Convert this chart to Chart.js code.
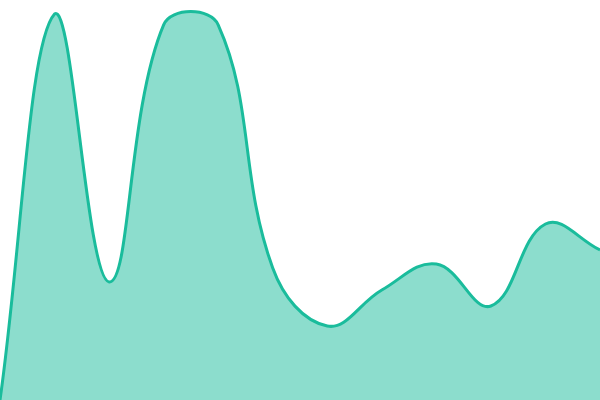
<!DOCTYPE html>
<html>
<head>
<meta charset="utf-8">
<script src="https://cdn.jsdelivr.net/npm/chart.js@4"></script>
<style>
html,body{margin:0;padding:0;background:#fff;}
canvas{display:block;}
</style>
</head>
<body>
<canvas id="c" width="600" height="400"></canvas>
<script>
const labels = ["1","2","3","4","5","6","7","8","9","10","11","12"];
const values = [0, 96.5, 29.5, 93.8, 93.8, 33, 18.5, 27.5, 34, 23.5, 44, 37.5];

new Chart(document.getElementById('c'), {
  type: 'line',
  data: {
    labels: labels,
    datasets: [{
      data: values,
      borderColor: '#1abc9c',
      backgroundColor: 'rgba(26,188,156,0.5)',
      borderWidth: 3,
      fill: 'origin',
      tension: 0.4,
      pointRadius: 0,
      pointHoverRadius: 0
    }]
  },
  options: {
    responsive: false,
    animation: false,
    layout: { padding: 0 },
    plugins: { legend: { display: false }, tooltip: { enabled: false } },
    scales: {
      x: { display: false },
      y: { display: false, min: 0, max: 100 }
    }
  }
});
</script>
</body>
</html>
